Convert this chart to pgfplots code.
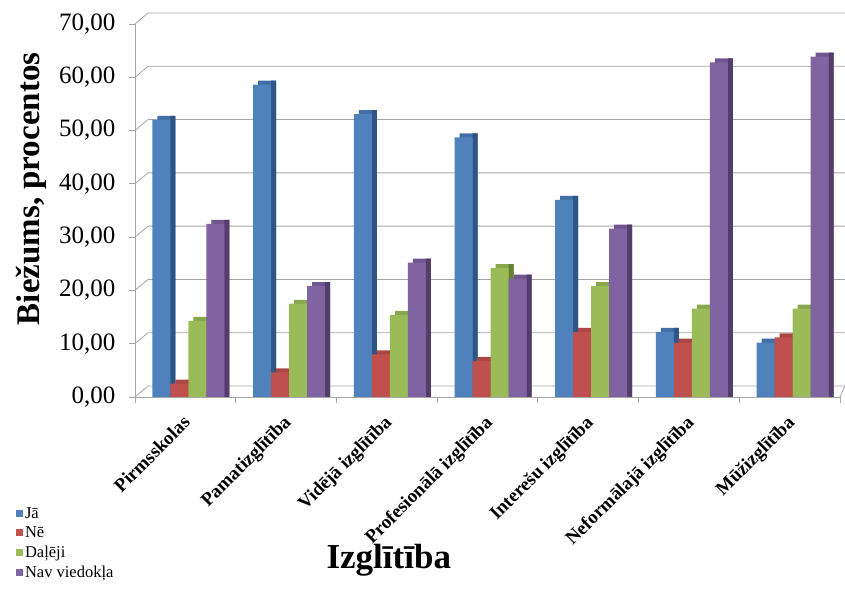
\documentclass[border=0pt]{standalone}
\usepackage{fontspec}
\setmainfont{Liberation Serif}
\usepackage{pgfplots}
\usepackage{pgfplotstable}
\pgfplotsset{compat=1.18}

\definecolor{gridc}{HTML}{A6A6A6}
\definecolor{jaF}{HTML}{4F81BD}\definecolor{jaT}{HTML}{426FA8}\definecolor{jaS}{HTML}{2F5584}
\definecolor{neF}{HTML}{C0504D}\definecolor{neT}{HTML}{AA4643}\definecolor{neS}{HTML}{873532}
\definecolor{daF}{HTML}{9BBB59}\definecolor{daT}{HTML}{88A64C}\definecolor{daS}{HTML}{66802F}
\definecolor{naF}{HTML}{8064A2}\definecolor{naT}{HTML}{6F5690}\definecolor{naS}{HTML}{523D6B}

% Ja, Ne, Daleji, Nav viedokla (%)
\pgfplotstableread{
cat ja ne dal nav
0 52.0 2.5 14.3 32.5
1 58.6 4.6 17.5 20.8
2 53.1 8.0 15.4 25.2
3 48.7 6.8 24.2 22.2
4 37.0 12.2 20.8 31.6
5 12.2 10.2 16.6 62.8
6 10.2 11.2 16.6 63.9
}\data

\pgfplotsset{
  sq/.style={legend image code/.code={\fill[##1] (0pt,-3.5pt) rectangle (7pt,3.5pt);}},
}

\begin{document}
\begin{tikzpicture}
\begin{axis}[
  scale only axis, width=705pt, height=373pt,
  xmin=-0.5, xmax=6.5, ymin=0, ymax=70,
  clip=false,
  ybar, bar width=18pt,
  axis lines*=left,
  axis line style={draw=gridc, line width=0.8pt},
  xtick={0,...,6},
  xticklabels={Pirmsskolas, Pamatizglītība, Vidējā izglītība, Profesionālā izglītība, Interešu izglītība, Neformālajā izglītība, Mūžizglītība},
  major x tick style={draw=none},
  minor xtick={-0.5,0.5,...,6.5},
  ytick={0,10,...,70},
  tick align=outside, major tick length=6pt, minor tick length=6pt,
  tick style={draw=gridc, line width=0.8pt},
  yticklabel style={font=\fontsize{25}{25}\selectfont, xshift=-10pt,
    /pgf/number format/.cd, fixed, fixed zerofill, precision=2, use comma, assume math mode=true},
  xticklabel style={font=\bfseries\fontsize{19}{19}\selectfont, rotate=45, anchor=north east, xshift=-7pt, yshift=-2pt},
  ylabel={Biežums, procentos},
  ylabel style={font=\bfseries\fontsize{33}{33}\selectfont, at={(rel axis cs:-0.1475,0.558)}, anchor=center},
  xlabel={Izglītība},
  xlabel style={font=\bfseries\fontsize{35}{35}\selectfont, at={(rel axis cs:0.36,-0.437)}, anchor=center},
  legend style={at={(rel axis cs:-0.169,-0.29)}, anchor=north west, draw=none, fill=none,
    font=\fontsize{16.5}{16.5}\selectfont, row sep=3pt, inner sep=0pt},
  legend cell align=left,
]
% back wall grid
\pgfplotsinvokeforeach{0,10,...,70}{
  \draw[gridc, line width=0.8pt] (axis cs:-0.5,#1) -- ([xshift=13pt,yshift=11pt]axis cs:-0.5,#1) -- ([xshift=5pt,yshift=11pt]axis cs:6.5,#1);
}
\draw[gridc, line width=0.8pt] (axis cs:6.5,0) -- ([xshift=5pt,yshift=11pt]axis cs:6.5,0);

% tops and sides
\addplot[forget plot, fill=jaT, draw=none, bar shift=-19pt] table[x=cat, y expr=\thisrow{ja}+0.75]{\data};
\addplot[forget plot, fill=jaS, draw=none, bar width=5pt, bar shift=-12.5pt] table[x=cat, y expr=\thisrow{ja}+0.75]{\data};
\addplot[forget plot, fill=neT, draw=none, bar shift=-1pt] table[x=cat, y expr=\thisrow{ne}+0.75]{\data};
\addplot[forget plot, fill=neS, draw=none, bar width=5pt, bar shift=5.5pt] table[x=cat, y expr=\thisrow{ne}+0.75]{\data};
\addplot[forget plot, fill=daT, draw=none, bar shift=17pt] table[x=cat, y expr=\thisrow{dal}+0.75]{\data};
\addplot[forget plot, fill=daS, draw=none, bar width=5pt, bar shift=23.5pt] table[x=cat, y expr=\thisrow{dal}+0.75]{\data};
\addplot[forget plot, fill=naT, draw=none, bar shift=35pt] table[x=cat, y expr=\thisrow{nav}+0.75]{\data};
\addplot[forget plot, fill=naS, draw=none, bar width=5pt, bar shift=41.5pt] table[x=cat, y expr=\thisrow{nav}+0.75]{\data};

% front faces
\addplot[fill=jaF, draw=none, bar shift=-24pt, sq] table[x=cat, y=ja]{\data};
\addplot[fill=neF, draw=none, bar shift=-6pt, sq] table[x=cat, y=ne]{\data};
\addplot[fill=daF, draw=none, bar shift=12pt, sq] table[x=cat, y=dal]{\data};
\addplot[fill=naF, draw=none, bar shift=30pt, sq] table[x=cat, y=nav]{\data};
\legend{Jā, Nē, Daļēji, Nav viedokļa}

\coordinate (SW) at (rel axis cs:0,0);
\coordinate (NE) at (rel axis cs:1,1);
\end{axis}
\pgfresetboundingbox
\path ([xshift=-135pt,yshift=-196pt]SW) rectangle ([xshift=5pt,yshift=24pt]NE);
\end{tikzpicture}
\end{document}
